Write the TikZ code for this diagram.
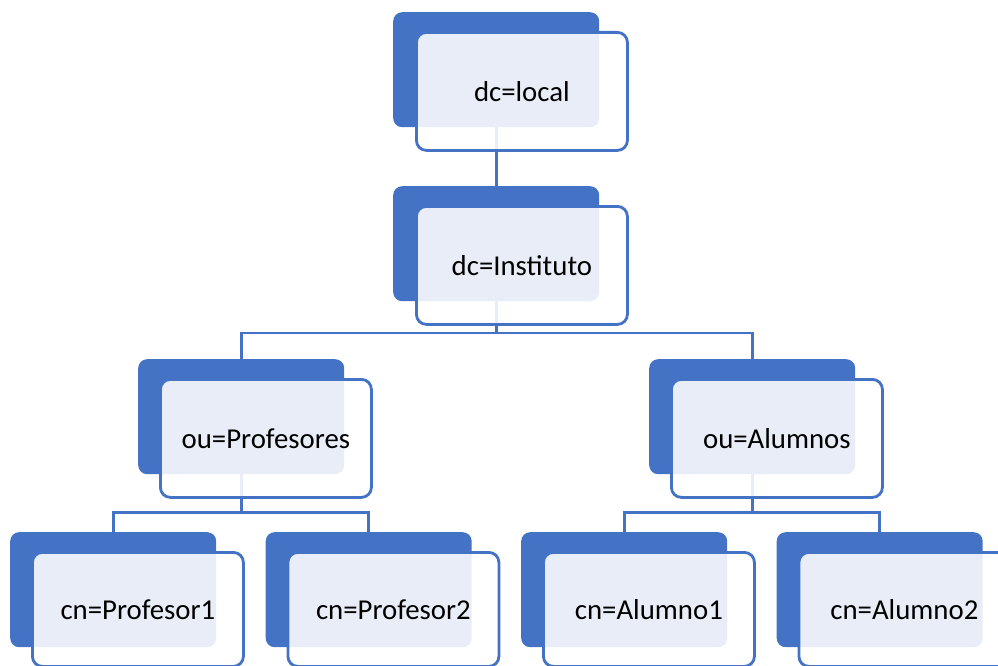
\documentclass[tikz,border=0pt]{standalone}
\usepackage{fontspec}
\setmainfont{Carlito}
\definecolor{sablue}{HTML}{4472C4}
\tikzset{
  backbox/.style={fill=sablue, draw=none, rounded corners=9pt, minimum width=206pt, minimum height=115pt, anchor=north west, inner sep=0pt},
  frontbox/.style={fill=white, fill opacity=0.88, text opacity=1, draw=sablue, line width=2.8pt, rounded corners=10pt, minimum width=211pt, minimum height=118pt, anchor=north west, inner sep=0pt, font=\fontsize{28.8}{34}\selectfont, text=black},
  link/.style={draw=sablue, line width=2.8pt}
}
\begin{document}
\begin{tikzpicture}[x=1pt,y=-1pt]
\useasboundingbox (0,0) rectangle (998,666);
% back boxes
\node[backbox] (b1) at (393,12) {};
\node[backbox] (b2) at (393,186) {};
\node[backbox] (b3) at (138,359) {};
\node[backbox] (b4) at (649,359) {};
\node[backbox] (b5) at (10,532) {};
\node[backbox] (b6) at (265.5,532) {};
\node[backbox] (b7) at (521,532) {};
\node[backbox] (b8) at (776.5,532) {};
% connectors
\draw[link] (b1.south) -- (b2.north);
\draw[link] (b2.south) -- (b2.south |- 0,333) coordinate (j1) -| (b3.north);
\draw[link] (j1) -| (b4.north);
\draw[link] (b3.south) -- (b3.south |- 0,512.5) coordinate (j2) -| (b5.north);
\draw[link] (j2) -| (b6.north);
\draw[link] (b4.south) -- (b4.south |- 0,512.5) coordinate (j3) -| (b7.north);
\draw[link] (j3) -| (b8.north);
% front boxes
\node[frontbox] (f1) at (415,31) {dc=local};
\node[frontbox] (f2) at (415,205) {dc=Instituto};
\node[frontbox] (f3) at (159,378) {ou=Profesores};
\node[frontbox] (f4) at (670,378) {ou=Alumnos};
\node[frontbox, minimum height=114pt] (f5) at (31,551) {cn=Profesor1};
\node[frontbox, minimum height=114pt] (f6) at (286.5,551) {cn=Profesor2};
\node[frontbox, minimum height=114pt] (f7) at (542,551) {cn=Alumno1};
\node[frontbox, minimum height=114pt] (f8) at (797.5,551) {cn=Alumno2};
\end{tikzpicture}
\end{document}
